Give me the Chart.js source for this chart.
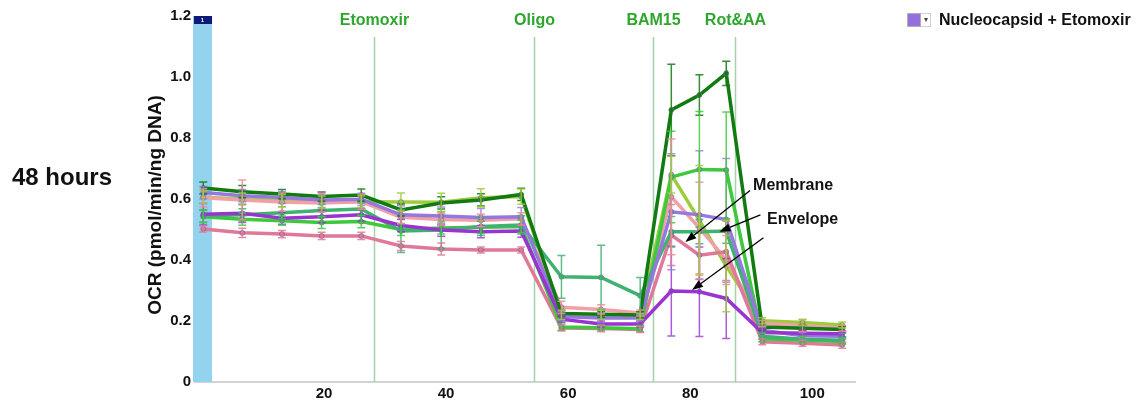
<!DOCTYPE html>
<html>
<head>
<meta charset="utf-8">
<script src="https://cdn.jsdelivr.net/npm/chart.js@4.4.1/dist/chart.umd.min.js"></script>
<style>
  html, body { margin: 0; padding: 0; background: #fff; }
  #wrap { position: relative; width: 1143px; height: 402px; overflow: hidden; font-family: "Liberation Sans", Arial, sans-serif; }
  #c { position: absolute; left: 0; top: 0; }
  #hours { position: absolute; left: 12px; top: 163px; font-weight: bold; font-size: 24px; color: #111; white-space: nowrap; }
  #legend { position: absolute; left: 907px; top: 11px; display: flex; align-items: center; white-space: nowrap; }
  #legend .sw { width: 14px; height: 14px; background: #9370db; border: 1px solid #b0b0b0; box-sizing: border-box; }
  #legend .dd { width: 10px; height: 14px; border: 1px solid #d0d0d0; border-left: none; box-sizing: border-box; font-size: 8px; line-height: 12px; text-align: center; color: #444; }
  #legend .tx { margin-left: 8px; font-weight: bold; font-size: 16px; color: #111; }
</style>
</head>
<body>
<div id="wrap">
  <canvas id="c" width="1143" height="402"></canvas>
  <div id="hours">48 hours</div>
  <div id="legend"><div class="sw"></div><div class="dd">&#9662;</div><div class="tx">Nucleocapsid + Etomoxir</div></div>
</div>
<script>
// ---------------- data ----------------
const times = [0.2, 6.6, 13.1, 19.6, 26.1, 32.6, 39.2, 45.7, 52.3, 58.9, 65.4, 71.8, 76.9, 81.5, 85.9, 91.8, 98.4, 104.9];

const darkGreen    = [0.636, 0.624, 0.616, 0.608, 0.613, 0.564, 0.587, 0.597, 0.615, 0.225, 0.222, 0.220, 0.892, 0.941, 1.012, 0.180, 0.176, 0.172];
const darkGreenErr = [0.020, 0.020, 0.015, 0.015, 0.020, 0.020, 0.020, 0.020, 0.020, 0.010, 0.010, 0.010, 0.150, 0.066, 0.040, 0.010, 0.010, 0.010];

const violet       = [0.550, 0.553, 0.537, 0.542, 0.548, 0.513, 0.498, 0.493, 0.495, 0.206, 0.190, 0.190, 0.298, 0.296, 0.274, 0.162, 0.160, 0.158];
const violetErr    = [0.035, 0.030, 0.020, 0.020, 0.020, 0.020, 0.020, 0.020, 0.020, 0.010, 0.010, 0.010, 0.147, 0.147, 0.131, 0.010, 0.010, 0.010];

const lavender     = [0.621, 0.611, 0.605, 0.597, 0.599, 0.548, 0.544, 0.539, 0.542, 0.215, 0.210, 0.210, 0.558, 0.548, 0.533, 0.170, 0.152, 0.150];
const lavenderErr  = [0.020, 0.020, 0.020, 0.025, 0.020, 0.030, 0.030, 0.030, 0.030, 0.015, 0.015, 0.010, 0.190, 0.210, 0.200, 0.010, 0.010, 0.010];

const seaGreen     = [0.545, 0.548, 0.555, 0.562, 0.567, 0.495, 0.498, 0.510, 0.515, 0.345, 0.343, 0.283, 0.493, 0.493, 0.495, 0.150, 0.140, 0.137];
const seaGreenErr  = [0.020, 0.020, 0.020, 0.020, 0.020, 0.070, 0.060, 0.030, 0.030, 0.070, 0.105, 0.060, 0.050, 0.040, 0.040, 0.010, 0.010, 0.010];

const brightGreen    = [0.542, 0.534, 0.529, 0.523, 0.526, 0.500, 0.505, 0.507, 0.510, 0.180, 0.178, 0.175, 0.672, 0.697, 0.695, 0.142, 0.138, 0.133];
const brightGreenErr = [0.020, 0.020, 0.015, 0.020, 0.020, 0.020, 0.020, 0.020, 0.020, 0.010, 0.010, 0.010, 0.150, 0.190, 0.190, 0.010, 0.010, 0.010];

const mauvePink    = [0.502, 0.489, 0.485, 0.479, 0.479, 0.446, 0.436, 0.433, 0.433, 0.177, 0.175, 0.172, 0.482, 0.416, 0.427, 0.132, 0.127, 0.121];
const mauvePinkErr = [0.010, 0.015, 0.012, 0.012, 0.012, 0.015, 0.020, 0.010, 0.010, 0.010, 0.010, 0.010, 0.100, 0.080, 0.100, 0.010, 0.010, 0.010];

const lightPink    = [0.604, 0.597, 0.590, 0.587, 0.591, 0.540, 0.533, 0.530, 0.535, 0.245, 0.238, 0.226, 0.607, 0.505, 0.400, 0.192, 0.185, 0.176];
const lightPinkErr = [0.030, 0.065, 0.030, 0.030, 0.025, 0.020, 0.020, 0.020, 0.020, 0.020, 0.015, 0.010, 0.190, 0.150, 0.080, 0.010, 0.020, 0.010];

const yellowGreen    = [0.606, 0.600, 0.595, 0.590, 0.591, 0.590, 0.589, 0.604, 0.608, 0.220, 0.220, 0.215, 0.680, 0.530, 0.380, 0.201, 0.195, 0.187];
const yellowGreenErr = [0.020, 0.020, 0.020, 0.020, 0.020, 0.030, 0.030, 0.030, 0.025, 0.015, 0.015, 0.010, 0.060, 0.180, 0.150, 0.010, 0.010, 0.010];

const xTickValues = [20, 40, 60, 80, 100];
const yTickValues = [0, 0.2, 0.4, 0.6, 0.8, 1.0, 1.2];
const yTickLabels = ['0', '0.2', '0.4', '0.6', '0.8', '1.0', '1.2'];

const injectionNames = ['Etomoxir', 'Oligo', 'BAM15', 'Rot&AA'];
const injectionTimes = [28.2, 54.4, 73.9, 87.4];

const yTitle = 'OCR (pmol/min/ng DNA)';
// ---------------------------------------

const FONT = '"Liberation Sans", Arial, sans-serif';

const seriesList = [
  { v: darkGreen,   e: darkGreenErr,   c: '#117a11', ec: 'rgba(17,122,17,0.85)' },
  { v: violet,      e: violetErr,      c: '#9a33d0', ec: 'rgba(154,51,208,0.8)' },
  { v: lavender,    e: lavenderErr,    c: '#9478df', ec: 'rgba(148,120,223,0.8)' },
  { v: seaGreen,    e: seaGreenErr,    c: '#3fb270', ec: 'rgba(63,178,112,0.85)' },
  { v: brightGreen, e: brightGreenErr, c: '#3ec83e', ec: 'rgba(62,200,62,0.85)' },
  { v: mauvePink,   e: mauvePinkErr,   c: '#e07898', ec: 'rgba(224,120,152,0.85)' },
  { v: lightPink,   e: lightPinkErr,   c: '#f0a0a6', ec: 'rgba(240,140,150,0.85)' },
  { v: yellowGreen, e: yellowGreenErr, c: '#9ccc3c', ec: 'rgba(156,204,60,0.85)' }
];

const datasets = seriesList.map(s => ({
  data: times.map((t, i) => ({ x: t, y: s.v[i] })),
  borderColor: s.c,
  backgroundColor: s.c,
  borderWidth: 3.5,
  pointRadius: 2.5,
  pointBorderWidth: 1,
  pointBorderColor: 'rgba(110,110,150,0.7)',
  pointBackgroundColor: s.c,
  tension: 0,
  fill: false,
  showLine: true,
  errs: s.e,
  errColor: s.ec
}));

// annotation arrows, in data coordinates (start -> tip)
const arrows = [
  { from: [89.8, 0.628], to: [79.2, 0.459] },
  { from: [91.5, 0.548], to: [84.8, 0.493] },
  { from: [92.0, 0.473], to: [80.3, 0.302] }
];
const notes = [
  { text: 'Membrane', at: [90.3, 0.643] },
  { text: 'Envelope', at: [92.6, 0.532] }
];

const deco = {
  id: 'deco',
  beforeDatasetsDraw(chart) {
    const { ctx, chartArea: a, scales: { x, y } } = chart;
    ctx.save();
    const bx0 = a.left - 2, bx1 = x.getPixelForValue(1.64);
    ctx.fillStyle = '#93d3ee';
    ctx.fillRect(bx0, y.getPixelForValue(1.2), bx1 - bx0, y.getPixelForValue(0) - y.getPixelForValue(1.2));
    ctx.fillStyle = '#0d1a7a';
    ctx.fillRect(bx0 + 1, y.getPixelForValue(1.2), bx1 - bx0 - 1, 8);
    ctx.fillStyle = '#fff';
    ctx.font = 'bold 6px ' + FONT;
    ctx.textAlign = 'center';
    ctx.textBaseline = 'middle';
    ctx.fillText('1', (bx0 + bx1) / 2, y.getPixelForValue(1.2) + 4);
    injectionTimes.forEach((t, i) => {
      const px = Math.round(x.getPixelForValue(t)) + 0.5;
      ctx.strokeStyle = '#a5d2aa';
      ctx.lineWidth = 1.5;
      ctx.beginPath();
      ctx.moveTo(px, 37);
      ctx.lineTo(px, y.getPixelForValue(0));
      ctx.stroke();
      ctx.fillStyle = '#2ea62e';
      ctx.font = 'bold 16px ' + FONT;
      ctx.textAlign = 'center';
      ctx.textBaseline = 'middle';
      ctx.fillText(injectionNames[i], px, 21);
    });
    ctx.restore();
  },
  afterDatasetsDraw(chart) {
    const { ctx, scales: { x, y } } = chart;
    ctx.save();
    chart.data.datasets.forEach(ds => {
      ctx.strokeStyle = ds.errColor;
      ctx.lineWidth = 1.5;
      ds.data.forEach((p, i) => {
        const px = x.getPixelForValue(p.x);
        const e = ds.errs[i];
        const yt = y.getPixelForValue(p.y + e), yb = y.getPixelForValue(p.y - e);
        ctx.beginPath();
        ctx.moveTo(px, yt); ctx.lineTo(px, yb);
        ctx.moveTo(px - 4, yt); ctx.lineTo(px + 4, yt);
        ctx.moveTo(px - 4, yb); ctx.lineTo(px + 4, yb);
        ctx.stroke();
      });
    });
    ctx.restore();
  },
  afterDraw(chart) {
    const { ctx, chartArea: a, scales: { x, y } } = chart;
    ctx.save();
    ctx.translate(156, (a.top + a.bottom) / 2 + 6);
    ctx.rotate(-Math.PI / 2);
    ctx.fillStyle = '#111';
    ctx.font = 'bold 19px ' + FONT;
    ctx.textAlign = 'center';
    ctx.textBaseline = 'middle';
    ctx.fillText(yTitle, 0, 0);
    ctx.restore();

    ctx.save();
    ctx.strokeStyle = '#000';
    ctx.fillStyle = '#000';
    ctx.lineWidth = 1.3;
    arrows.forEach(ar => {
      const x0 = x.getPixelForValue(ar.from[0]), y0 = y.getPixelForValue(ar.from[1]);
      const x1 = x.getPixelForValue(ar.to[0]), y1 = y.getPixelForValue(ar.to[1]);
      const ang = Math.atan2(y1 - y0, x1 - x0);
      const L = 11, W = 4;
      const bx = x1 - L * Math.cos(ang), by = y1 - L * Math.sin(ang);
      ctx.beginPath();
      ctx.moveTo(x0, y0); ctx.lineTo(bx, by);
      ctx.stroke();
      ctx.beginPath();
      ctx.moveTo(x1, y1);
      ctx.lineTo(bx + W * Math.sin(ang), by - W * Math.cos(ang));
      ctx.lineTo(bx - W * Math.sin(ang), by + W * Math.cos(ang));
      ctx.closePath();
      ctx.fill();
    });
    ctx.font = 'bold 16px ' + FONT;
    ctx.textAlign = 'left';
    ctx.textBaseline = 'middle';
    ctx.fillStyle = '#111';
    notes.forEach(n => ctx.fillText(n.text, x.getPixelForValue(n.at[0]), y.getPixelForValue(n.at[1])));
    ctx.restore();
  }
};

new Chart(document.getElementById('c'), {
  type: 'scatter',
  data: { datasets },
  options: {
    responsive: false,
    animation: false,
    layout: { padding: { left: 150, right: 288, top: 16, bottom: 0 } },
    plugins: { legend: { display: false }, tooltip: { enabled: false } },
    scales: {
      x: {
        type: 'linear', min: -1.15, max: 107,
        grid: { display: false, drawTicks: false },
        border: { display: true, color: '#d4d4d4', width: 2 },
        ticks: { font: { family: FONT, size: 15, weight: 'bold' }, color: '#111', padding: 3, autoSkip: false, maxRotation: 0 },
        afterBuildTicks: s => { s.ticks = xTickValues.map(v => ({ value: v })); },
        afterFit: s => { s.height = 20; }
      },
      y: {
        type: 'linear', min: 0, max: 1.2,
        grid: { display: false, drawTicks: false },
        border: { display: false },
        ticks: { font: { family: FONT, size: 15, weight: 'bold' }, color: '#111', padding: 4,
                 callback: (v, i) => yTickLabels[i] },
        afterBuildTicks: s => { s.ticks = yTickValues.map(v => ({ value: v })); },
        afterFit: s => { s.width = 45; }
      }
    }
  },
  plugins: [deco]
});
</script>
</body>
</html>
